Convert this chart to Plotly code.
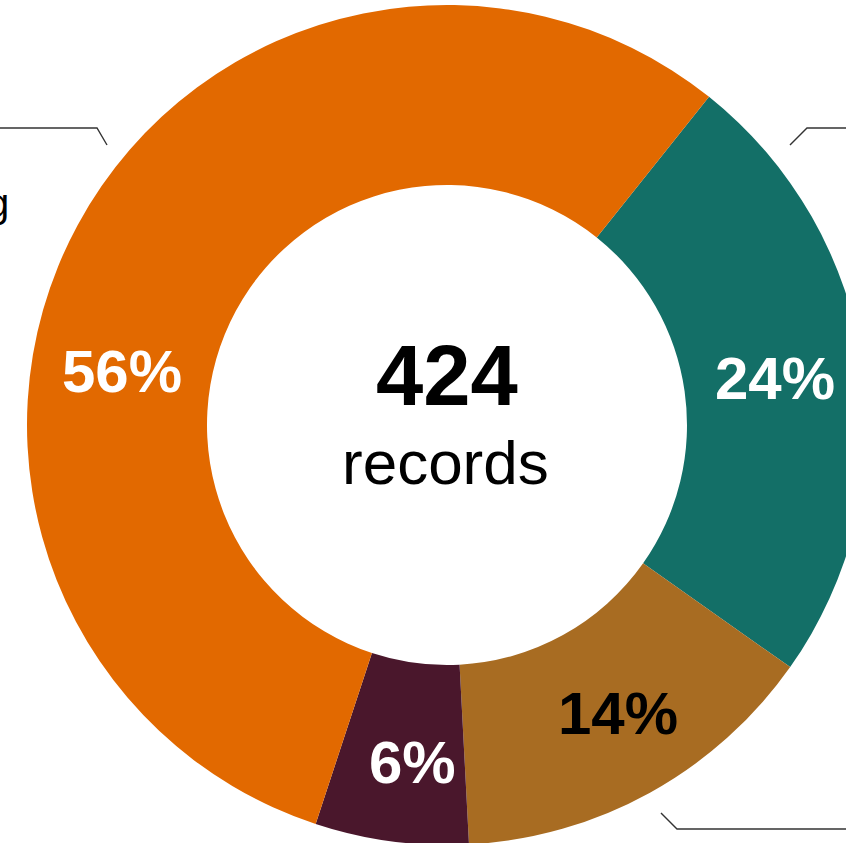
import math
import plotly.graph_objects as go

# ---- data ----
categories = ["Completed", "Planned", "Cancelled", "Ongoing"]
counts = [102, 61, 25, 236]
colors = ["#136F67", "#A86C22", "#4A172C", "#E26900"]
label_font_colors = ["white", "black", "white", "white"]
total_label = "records"

# ---- geometry (pixels) ----
W, H = 894, 845
CX, CY = 447, 425
R_OUT = 420
HOLE = 240 / 420
ROT = 38.6
FONT = "Liberation Sans, Arial, sans-serif"

total = sum(counts)


def px(x, y):
    return x / W, 1 - y / H


fig = go.Figure(go.Pie(
    labels=categories,
    values=counts,
    sort=False,
    direction="clockwise",
    rotation=ROT,
    hole=HOLE,
    marker=dict(colors=colors, line=dict(color="white", width=0)),
    textinfo="none",
    hoverinfo="label+value+percent",
    showlegend=False,
    domain=dict(x=[0, 1], y=[0, 2 * R_OUT / H]),
))

annotations = []
# percentage labels placed from the data angles
label_angle_shift = [0, -1.8, -1.8, -19]
label_r = [331, 335, 339, 329]
start = ROT
for i, v in enumerate(counts):
    span = v / total * 360
    mid = start + span / 2 + label_angle_shift[i]
    start += span
    a = math.radians(mid)
    x = CX + label_r[i] * math.sin(a)
    y = CY - label_r[i] * math.cos(a)
    xx, yy = px(x, y)
    annotations.append(dict(
        x=xx, y=yy, xref="paper", yref="paper", showarrow=False,
        text=f"<b>{round(v / total * 100)}%</b>", xanchor="center", yanchor="middle",
        font=dict(family=FONT, size=60, color=label_font_colors[i]),
    ))

# centre text
xx, yy = px(CX, 375)
annotations.append(dict(x=xx, y=yy, xref="paper", yref="paper", showarrow=False,
                        text=f"<b>{total}</b>", xanchor="center", yanchor="middle",
                        font=dict(family=FONT, size=85, color="black")))
xx, yy = px(CX - 2, 462)
annotations.append(dict(x=xx, y=yy, xref="paper", yref="paper", showarrow=False,
                        text=total_label, xanchor="center", yanchor="middle",
                        font=dict(family=FONT, size=62, color="black")))

# outside category label (mostly off-canvas on the left)
xx, yy = px(11, 203)
annotations.append(dict(x=xx, y=yy, xref="paper", yref="paper", showarrow=False,
                        text=categories[3], xanchor="right", yanchor="middle",
                        font=dict(family=FONT, size=40, color="black")))

# leader lines (connectors)
shapes = []
connectors = [
    [(107, 145), (97, 128), (-60, 128)],
    [(790, 145), (807, 128), (950, 128)],
    [(661, 813), (677, 829), (950, 829)],
]
for pts in connectors:
    path = "M " + " L ".join(f"{px(x, y)[0]:.5f},{px(x, y)[1]:.5f}" for x, y in pts)
    shapes.append(dict(type="path", path=path, xref="paper", yref="paper",
                       line=dict(color="#333333", width=1.4)))

fig.update_layout(
    width=W, height=H,
    margin=dict(l=0, r=0, t=0, b=0),
    paper_bgcolor="white", plot_bgcolor="white",
    annotations=annotations,
    shapes=shapes,
)

fig.write_html("out.html",
               config={"displayModeBar": False},
               post_script="document.body.style.margin='0';document.body.style.overflow='hidden';")
